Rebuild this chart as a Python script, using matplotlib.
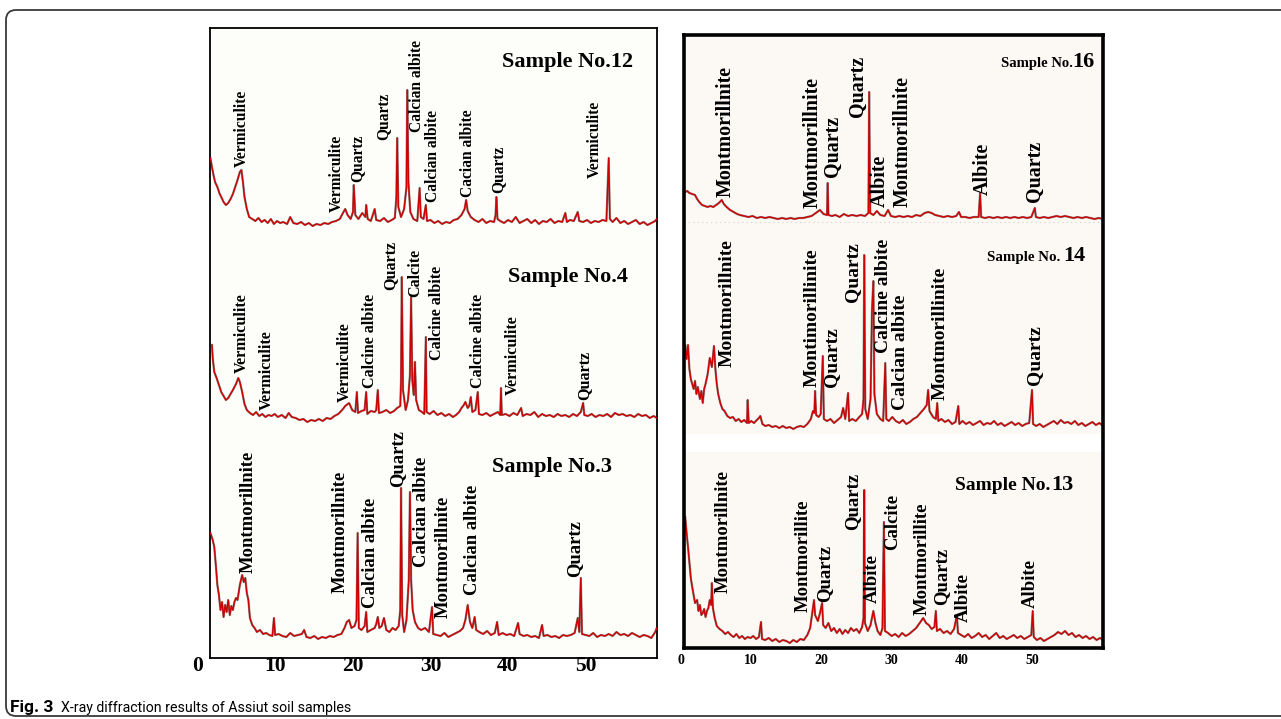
import matplotlib.pyplot as plt
from matplotlib.patches import FancyBboxPatch

# ---- diffraction patterns: (2-theta, intensity above baseline)
s12_pattern = [(1.6,69),(1.8,60),(2.0,52),(2.2,45),(2.5,40),(2.8,33),(3.0,30),(3.3,25),(3.6,22),(3.9,24),(4.2,28),(4.5,33),(4.8,40),(5.1,47),(5.4,55),(5.6,57),(5.8,45),(6.0,30),(6.3,18),(6.6,10),(7.0,8),(7.4,6),(7.8,9),(8.2,5),(8.6,7),(9.0,4),(9.4,8),(9.8,3),(10.2,6),(10.6,4),(11.0,5),(11.5,3),(11.9,10),(12.3,4),(12.8,3),(13.3,5),(13.8,2),(14.3,4),(14.8,1),(15.3,3),(15.8,2),(16.3,4),(16.8,3),(17.3,5),(17.8,6),(18.3,8),(18.7,14),(19.0,18),(19.3,12),(19.7,8),(20.0,15),(20.1,42),(20.3,12),(20.7,8),(21.2,14),(21.6,10),(21.7,22),(21.9,8),(22.3,6),(22.8,18),(23.0,7),(23.5,6),(24.0,9),(24.5,5),(25.0,7),(25.4,9),(25.6,30),(25.7,89),(25.85,20),(26.2,10),(26.6,18),(26.9,40),(27.0,137),(27.15,45),(27.4,15),(27.8,8),(28.3,6),(28.6,39),(28.75,10),(29.1,8),(29.4,22),(29.55,6),(30.0,7),(30.5,4),(31.0,6),(31.5,3),(32.0,5),(32.5,4),(33.0,7),(33.5,8),(34.0,12),(34.4,18),(34.6,27),(34.8,16),(35.2,10),(35.7,7),(36.2,5),(36.7,8),(37.2,4),(37.7,6),(38.2,5),(38.4,12),(38.5,30),(38.65,8),(39.0,6),(39.5,4),(40.0,7),(40.5,5),(41.0,10),(41.5,4),(42.0,6),(42.5,8),(43.0,4),(43.5,7),(44.0,3),(44.5,6),(45.0,5),(45.5,8),(46.0,4),(46.5,6),(47.0,5),(47.4,14),(47.6,5),(48.0,7),(48.5,6),(49.0,15),(49.2,6),(49.7,5),(50.2,7),(50.7,4),(51.2,6),(51.7,5),(52.2,7),(52.7,6),(53.0,69),(53.15,8),(53.5,5),(54.0,9),(54.5,4),(55.0,6),(55.5,3),(56.0,5),(56.5,7),(57.0,3),(57.5,5),(58.0,2),(58.5,4),(59.0,6),(59.2,8)]

s4_pattern = [(1.8,75),(1.9,62),(2.1,48),(2.4,42),(2.7,35),(3.0,28),(3.3,24),(3.6,20),(3.9,22),(4.2,26),(4.5,30),(4.9,36),(5.2,42),(5.4,38),(5.7,28),(6.0,16),(6.3,10),(6.7,7),(7.1,5),(7.5,8),(7.9,4),(8.3,6),(8.7,3),(9.1,5),(9.5,4),(9.9,6),(10.3,3),(10.8,5),(11.3,2),(11.7,7),(12.1,3),(12.6,2),(13.1,0),(13.6,1),(14.1,-2),(14.6,0),(15.1,-1),(15.6,1),(16.1,-1),(16.6,2),(17.1,1),(17.6,4),(18.1,6),(18.6,10),(19.0,14),(19.5,17),(19.9,10),(20.3,8),(20.5,28),(20.65,7),(21.1,9),(21.5,10),(21.7,28),(21.85,6),(22.3,9),(22.8,8),(23.0,10),(23.2,30),(23.35,7),(23.8,8),(24.3,10),(24.8,7),(25.3,9),(25.7,12),(26.1,14),(26.2,40),(26.3,143),(26.45,30),(26.8,10),(27.1,20),(27.35,45),(27.5,123),(27.65,40),(27.85,25),(28.0,58),(28.15,20),(28.5,10),(28.9,8),(29.2,6),(29.4,83),(29.5,8),(29.9,6),(30.4,9),(30.9,5),(31.4,7),(31.9,4),(32.4,6),(32.9,3),(33.3,5),(33.7,8),(34.0,12),(34.3,15),(34.5,18),(34.8,12),(35.0,14),(35.2,23),(35.4,8),(35.8,10),(36.1,28),(36.25,6),(36.7,5),(37.2,7),(37.7,4),(38.2,6),(38.7,8),(39.0,5),(39.1,32),(39.2,5),(39.7,6),(40.2,4),(40.7,7),(41.2,5),(41.7,12),(41.9,4),(42.4,6),(42.9,5),(43.4,8),(43.9,3),(44.4,6),(44.9,4),(45.4,5),(45.9,3),(46.4,6),(46.9,4),(47.4,5),(47.9,3),(48.4,6),(48.9,4),(49.4,8),(49.7,17),(49.85,5),(50.3,4),(50.8,6),(51.3,3),(51.8,5),(52.3,4),(52.8,6),(53.3,3),(53.8,7),(54.3,5),(54.8,6),(55.3,4),(55.8,5),(56.3,3),(56.8,6),(57.3,4),(57.8,5),(58.3,2),(58.8,4),(59.2,2)]

s3_pattern = [(1.6,107),(1.9,100),(2.1,93),(2.3,75),(2.5,55),(2.7,45),(2.9,30),(3.1,38),(3.3,23),(3.5,35),(3.7,28),(3.9,40),(4.1,25),(4.3,34),(4.5,30),(4.7,38),(4.9,42),(5.1,40),(5.4,55),(5.7,65),(5.9,58),(6.1,62),(6.3,47),(6.5,40),(6.7,22),(7.0,15),(7.3,12),(7.6,8),(8.0,10),(8.4,6),(8.8,7),(9.2,5),(9.6,4),(9.8,22),(9.95,5),(10.4,6),(10.9,4),(11.4,3),(11.9,7),(12.4,4),(12.9,5),(13.4,6),(13.7,10),(14.0,3),(14.5,2),(15.0,4),(15.5,1),(16.0,3),(16.5,2),(17.0,4),(17.5,3),(18.0,5),(18.5,6),(18.9,12),(19.2,18),(19.5,20),(19.8,12),(20.2,14),(20.45,20),(20.6,107),(20.75,12),(21.1,10),(21.5,14),(21.7,28),(21.85,8),(22.3,10),(22.8,12),(23.0,16),(23.2,23),(23.4,12),(23.7,14),(24.0,22),(24.3,10),(24.7,8),(25.1,12),(25.5,10),(25.9,14),(26.1,30),(26.2,152),(26.35,25),(26.6,8),(26.9,20),(27.2,60),(27.35,148),(27.5,60),(27.7,30),(28.0,18),(28.4,12),(28.8,10),(29.3,12),(29.8,8),(30.2,33),(30.35,6),(30.8,5),(31.3,4),(31.8,7),(32.3,3),(32.8,5),(33.3,7),(33.8,9),(34.2,12),(34.5,20),(34.8,35),(35.1,18),(35.4,12),(35.7,23),(35.9,10),(36.3,8),(36.8,6),(37.3,9),(37.8,5),(38.3,7),(38.6,18),(38.8,5),(39.3,7),(39.8,5),(40.3,6),(40.8,4),(41.3,17),(41.5,6),(42.0,4),(42.5,5),(43.0,3),(43.5,4),(44.0,2),(44.4,15),(44.6,4),(45.1,5),(45.6,3),(46.1,4),(46.6,2),(47.1,5),(47.6,4),(48.1,5),(48.6,7),(49.0,22),(49.2,8),(49.4,62),(49.55,6),(50.0,5),(50.5,4),(51.0,7),(51.5,3),(52.0,5),(52.5,4),(53.0,6),(53.5,4),(54.0,8),(54.5,5),(55.0,6),(55.5,4),(56.0,7),(56.5,5),(57.0,3),(57.5,5),(58.0,4),(58.5,2),(59.0,8),(59.2,12)]

s16_pattern = [(0.6,27),(0.9,28),(1.2,26),(1.6,25),(2.0,24),(2.3,20),(2.6,17),(3.0,14),(3.4,13),(3.8,12),(4.2,13),(4.6,12),(5.0,14),(5.4,16),(5.8,19),(6.1,15),(6.5,12),(7.0,9),(7.5,7),(8.0,5),(8.4,4),(9.0,3),(9.6,2),(10.2,3),(10.8,1),(11.4,2),(12.0,1),(12.6,2),(13.2,1),(13.8,0),(14.4,1),(15.0,0),(15.6,1),(16.2,0),(16.8,1),(17.4,1),(18.0,2),(18.6,3),(19.2,6),(19.8,9),(20.3,5),(20.8,4),(20.9,36),(21.0,4),(21.5,3),(22.0,4),(22.6,2),(23.2,5),(23.8,3),(24.4,4),(25.0,3),(25.6,4),(26.2,3),(26.7,6),(26.8,127),(26.95,6),(27.4,4),(27.9,8),(28.4,4),(29.0,3),(29.5,9),(29.9,3),(30.5,2),(31.1,3),(31.7,2),(32.3,3),(32.9,2),(33.5,4),(34.1,3),(34.7,6),(35.2,7),(35.7,6),(36.2,4),(36.8,3),(37.4,2),(38.0,3),(38.6,2),(39.2,3),(39.6,7),(39.9,2),(40.5,2),(41.1,1),(41.7,2),(42.4,2),(42.6,26),(42.75,2),(43.3,1),(43.9,2),(44.5,1),(45.1,2),(45.7,1),(46.3,2),(46.9,1),(47.5,2),(48.1,1),(48.7,2),(49.3,1),(49.9,2),(50.4,11),(50.55,2),(51.1,1),(51.7,2),(52.3,1),(52.9,2),(53.5,3),(54.1,2),(54.7,3),(55.3,2),(55.9,1),(56.5,2),(57.1,1),(57.7,2),(58.3,1),(58.9,0),(59.5,1),(60.1,0)]

s14_pattern = [(0.6,84),(0.8,70),(1.0,84),(1.2,60),(1.4,50),(1.6,45),(1.8,40),(2.0,48),(2.2,35),(2.4,42),(2.7,30),(2.9,38),(3.1,26),(3.3,40),(3.5,45),(3.8,55),(4.1,71),(4.4,62),(4.7,83),(4.9,60),(5.1,45),(5.3,35),(5.6,26),(5.9,20),(6.2,18),(6.6,13),(7.0,11),(7.4,12),(7.8,8),(8.2,10),(8.6,7),(9.0,9),(9.4,6),(9.5,29),(9.65,6),(10.0,8),(10.4,6),(10.8,9),(11.1,11),(11.3,13),(11.6,5),(12.0,3),(12.5,4),(13.0,2),(13.5,3),(14.0,1),(14.5,3),(15.0,1),(15.5,2),(16.0,0),(16.5,2),(17.0,3),(17.5,2),(18.0,5),(18.5,10),(18.8,18),(19.0,16),(19.1,38),(19.25,14),(19.6,12),(19.9,15),(20.2,73),(20.35,10),(20.8,8),(21.3,10),(21.8,6),(22.3,9),(22.8,12),(23.1,21),(23.4,10),(23.8,36),(23.95,8),(24.4,10),(24.9,8),(25.4,12),(25.8,15),(26.0,30),(26.1,174),(26.25,20),(26.6,10),(27.0,30),(27.2,118),(27.4,148),(27.55,35),(27.9,15),(28.4,10),(28.8,8),(29.1,66),(29.25,10),(29.6,8),(30.1,12),(30.6,8),(31.1,6),(31.6,9),(32.1,5),(32.6,7),(33.1,10),(33.6,12),(34.1,16),(34.6,20),(35.0,24),(35.2,39),(35.4,18),(35.9,12),(36.3,10),(36.5,26),(36.65,8),(37.1,10),(37.6,7),(38.1,9),(38.6,5),(39.1,7),(39.5,23),(39.65,5),(40.1,8),(40.6,5),(41.1,7),(41.6,4),(42.1,6),(42.6,8),(43.1,4),(43.6,6),(44.1,5),(44.6,8),(45.1,4),(45.6,6),(46.1,3),(46.6,5),(47.1,7),(47.6,4),(48.1,6),(48.6,3),(49.1,5),(49.6,6),(50.0,39),(50.15,5),(50.6,3),(51.1,5),(51.6,2),(52.1,4),(52.6,6),(53.1,8),(53.6,5),(54.1,9),(54.6,6),(55.1,7),(55.6,5),(56.1,8),(56.6,4),(57.1,6),(57.6,3),(58.1,5),(58.6,7),(59.1,4),(59.6,6),(60.1,3)]

s13_pattern = [(0.6,126),(0.8,110),(1.0,96),(1.2,80),(1.4,65),(1.6,56),(1.8,48),(2.0,40),(2.3,43),(2.5,32),(2.7,38),(2.9,28),(3.1,30),(3.3,34),(3.5,26),(3.7,32),(3.9,35),(4.1,43),(4.3,38),(4.4,60),(4.55,35),(4.8,25),(5.1,17),(5.5,14),(5.9,12),(6.3,9),(6.7,11),(7.1,8),(7.5,6),(7.9,9),(8.3,5),(8.7,7),(9.1,4),(9.5,6),(9.9,5),(10.3,7),(10.7,4),(11.1,6),(11.4,21),(11.55,4),(12.0,3),(12.5,5),(13.0,2),(13.5,4),(14.0,1),(14.5,3),(15.0,2),(15.5,0),(16.0,3),(16.5,1),(17.0,4),(17.5,3),(18.0,8),(18.4,15),(18.8,35),(18.95,43),(19.1,28),(19.5,22),(19.8,30),(20.1,40),(20.25,18),(20.6,15),(21.0,20),(21.4,12),(21.8,15),(22.2,10),(22.6,14),(23.0,9),(23.4,13),(23.8,10),(24.2,15),(24.6,12),(25.0,14),(25.4,10),(25.8,16),(26.0,25),(26.1,153),(26.2,20),(26.6,12),(27.0,18),(27.4,32),(27.7,20),(28.0,12),(28.4,8),(28.7,15),(28.9,121),(29.05,12),(29.5,10),(30.0,7),(30.5,9),(31.0,6),(31.5,10),(32.0,7),(32.5,9),(33.0,12),(33.5,15),(34.0,20),(34.5,25),(34.9,20),(35.3,18),(35.7,14),(36.1,16),(36.3,32),(36.45,12),(36.9,14),(37.4,10),(37.9,12),(38.4,9),(38.9,14),(39.3,28),(39.45,10),(39.9,8),(40.4,6),(40.9,9),(41.4,5),(41.9,7),(42.4,10),(42.9,6),(43.4,8),(43.9,4),(44.4,7),(44.9,10),(45.4,5),(45.9,7),(46.4,4),(46.9,6),(47.4,8),(47.9,5),(48.4,7),(48.9,4),(49.4,6),(49.9,8),(50.1,32),(50.25,6),(50.7,3),(51.2,5),(51.7,2),(52.2,4),(52.7,6),(53.2,8),(53.7,11),(54.2,9),(54.7,12),(55.2,8),(55.7,10),(56.2,6),(56.7,8),(57.2,5),(57.7,7),(58.2,4),(58.7,6),(59.2,3),(59.7,5),(60.1,3)]

# ---- mineral labels: (name, 2-theta, height above baseline)
s12_labels = [("Vermiculite", 5.7, 60), ("Vermiculite", 17.9, 15), ("Quartz", 20.5, 45),
              ("Quartz", 23.9, 87), ("Calcian albite", 28.3, 95), ("Calcian albite", 30.3, 25),
              ("Cacian albite", 34.8, 30), ("Quartz", 38.8, 34), ("Vermiculite", 51.2, 49)]
s4_labels = [("Vermiculite", 5.7, 47), ("Vermiculite", 8.9, 10), ("Vermiculite", 19.0, 18),
             ("Calcine albite", 22.2, 32), ("Quartz", 24.8, 130), ("Calcite", 28.0, 123),
             ("Calcine albite", 30.8, 60), ("Calcine albite", 36.1, 32), ("Vermiculite", 40.6, 25),
             ("Quartz", 49.9, 20)]
s3_labels = [("Montmorillnite", 6.5, 67), ("Montmorillnite", 18.3, 47), ("Calcian albite", 22.2, 32),
             ("Quartz", 25.8, 153), ("Calcian albite", 28.9, 73), ("Montmorillnite", 31.7, 22),
             ("Calcian albite", 35.4, 45), ("Quartz", 48.6, 63)]
s16_labels = [("Montmorillnite", 6.3, 22), ("Montmorillnite", 18.8, 11), ("Quartz", 21.7, 42),
              ("Quartz", 25.2, 102), ("Albite", 28.3, 12), ("Montmorillnite", 31.6, 12),
              ("Albite", 43.0, 24), ("Quartz", 50.4, 17)]
s14_labels = [("Montmorillnite", 6.6, 62), ("Montimorillinite", 18.7, 42), ("Quartz", 21.5, 42),
              ("Quartz", 24.4, 127), ("Calcine albite", 28.8, 76), ("Calcian albite", 31.2, 19),
              ("Montmorillinite", 36.9, 29), ("Quartz", 50.4, 44)]
s13_labels = [("Montmorillnite", 6.0, 50), ("Montmorillite", 17.4, 31), ("Quartz", 20.5, 41),
              ("Quartz", 24.4, 113), ("Albite", 27.2, 40), ("Calcite", 30.2, 93),
              ("Montmorillite", 34.3, 28), ("Quartz", 37.2, 38), ("Albite", 40.2, 21),
              ("Albite", 49.7, 35)]

tick_values = [0, 10, 20, 30, 40, 50]

SERIF = "Liberation Serif"
RED = "#d00000"
GREY = "#8c8484"


def draw_pattern(ax, pattern, base):
    t = [p[0] for p in pattern]
    y = [p[1] + base for p in pattern]
    ax.plot(t, y, color=GREY, lw=1.6, zorder=2)
    ax.plot(t, y, color=RED, lw=1.0, zorder=3)


def draw_labels(ax, labels, base, size):
    for name, t, h in labels:
        ax.text(t, base + h, name, rotation=90, ha="center", va="bottom",
                family=SERIF, weight="bold", fontsize=size, zorder=4)


fig = plt.figure(figsize=(12.81, 7.19), dpi=100)

# page frame + caption
bg = fig.add_axes([0, 0, 1, 1], zorder=-5)
bg.set_xlim(0, 1281)
bg.set_ylim(719, 0)
bg.axis("off")
bg.add_patch(FancyBboxPatch((6, 10), 1320, 706, boxstyle="round,pad=0,rounding_size=10",
                            fc="none", ec="#3a3a3a", lw=1.3))
bg.text(10, 712, "Fig. 3", family="Roboto", weight="bold", fontsize=12.5, va="baseline")
bg.text(61, 712, "X-ray diffraction results of Assiut soil samples", family="Roboto",
        fontsize=10.2, va="baseline")

# ---- left panel
axl = fig.add_axes([210 / 1281, 61 / 719, 447 / 1281, 630 / 719])
axl.set_facecolor("#fdfdfa")
axl.set_xlim(1.548, 59.23)
axl.set_ylim(0, 630)
axl.set_xticks([])
axl.set_yticks([])
for sp in axl.spines.values():
    sp.set_linewidth(1.3)

draw_pattern(axl, s12_pattern, 431)
draw_pattern(axl, s4_pattern, 238)
draw_pattern(axl, s3_pattern, 18)
draw_labels(axl, s12_labels, 431, 11.2)
draw_labels(axl, s4_labels, 238, 11.6)
draw_labels(axl, s3_labels, 18, 13.4)

axl.text(39.2, 591, "Sample No.12", family=SERIF, weight="bold", fontsize=16, va="baseline")
axl.text(40.0, 376, "Sample No.4", family=SERIF, weight="bold", fontsize=16, va="baseline")
axl.text(37.9, 186, "Sample No.3", family=SERIF, weight="bold", fontsize=16, va="baseline")

for v in tick_values:
    axl.text(v, -8, str(v), ha="center", va="center", family=SERIF, weight="bold",
             fontsize=15.5, clip_on=False)

# ---- right panel
axr = fig.add_axes([684 / 1281, 71 / 719, 419 / 1281, 613 / 719])
axr.set_facecolor("#fcf8f4")
axr.set_xlim(0.43, 60.11)
axr.set_ylim(0, 613)
axr.set_xticks([])
axr.set_yticks([])
for sp in axr.spines.values():
    sp.set_linewidth(2.6)
    sp.set_zorder(6)
axr.axhspan(196, 214, color="white", zorder=0.5, lw=0)
axr.axhline(426, color="#d8d0cc", lw=0.8, ls=(0, (1, 3)), zorder=0.6)

draw_pattern(axr, s16_pattern, 429)
draw_pattern(axr, s14_pattern, 219)
draw_pattern(axr, s13_pattern, 5)
draw_labels(axr, s16_labels, 429, 14.4)
draw_labels(axr, s14_labels, 219, 14)
draw_labels(axr, s13_labels, 5, 13.5)

axr.text(55.8, 581, "Sample No.", family=SERIF, weight="bold", fontsize=10.6, ha="right", va="baseline")
axr.text(55.8, 581, "16", family=SERIF, weight="bold", fontsize=16, ha="left", va="baseline")
axr.text(54.0, 387, "Sample No.", family=SERIF, weight="bold", fontsize=10.8, ha="right", va="baseline")
axr.text(54.4, 387, "14", family=SERIF, weight="bold", fontsize=16, ha="left", va="baseline")
axr.text(52.6, 158, "Sample No.", family=SERIF, weight="bold", fontsize=14, ha="right", va="baseline")
axr.text(52.8, 158, "13", family=SERIF, weight="bold", fontsize=16, ha="left", va="baseline")

for v in tick_values:
    axr.text(v, -12, str(v), ha="center", va="center", family=SERIF, weight="bold",
             fontsize=10, clip_on=False)

fig.savefig("out.png", dpi=100)
